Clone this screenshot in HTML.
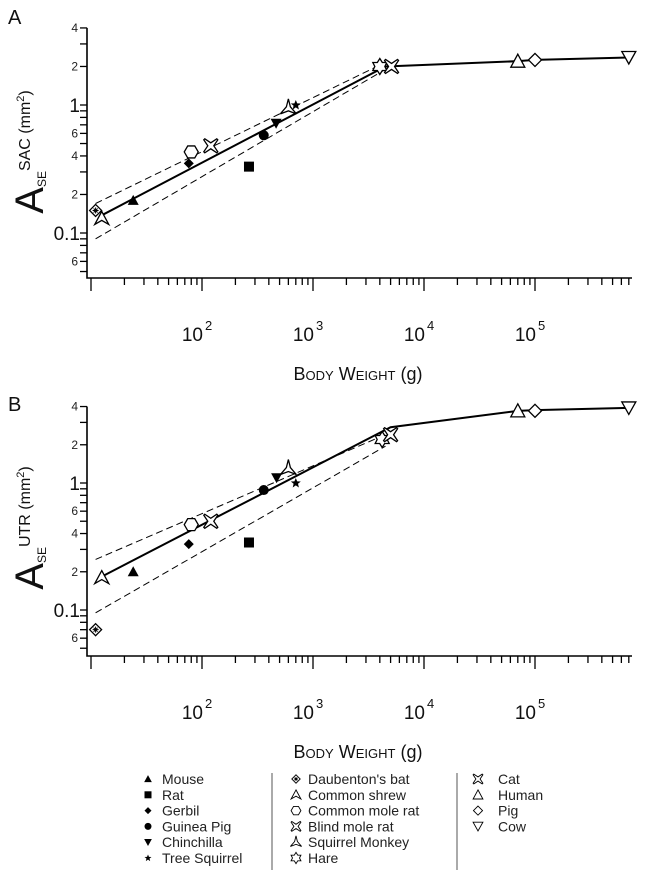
<!DOCTYPE html>
<html><head><meta charset="utf-8">
<style>
body{margin:0;background:#fff;}
svg{display:block;font-family:"Liberation Sans",sans-serif;}
</style></head>
<body>
<svg id="fig" width="645" height="879" viewBox="0 0 645 879"></svg>
<script>
// ---- data ----
const species = ["Daubenton's bat","Common shrew","Mouse","Gerbil","Common mole rat","Blind mole rat","Rat","Guinea Pig","Chinchilla","Squirrel Monkey","Tree Squirrel","Hare","Cat","Human","Pig","Cow"];
const markers = ["bat","shrew","tri","diamond","hex","blind","square","circle","tridown","monkey","star","hare","cat","otri","odiamond","otridown"];
const weightsA = [11,12.5,24,76,80,120,265,360,465,600,700,4000,5100,70000,100000,700000];
const valuesA = [0.15,0.13,0.18,0.35,0.43,0.48,0.33,0.58,0.72,0.95,1.0,2.0,2.0,2.2,2.25,2.35];
const weightsB = [11,12.5,24,76,80,120,265,360,470,600,700,4200,5000,70000,100000,700000];
const valuesB = [0.07,0.18,0.2,0.33,0.47,0.5,0.34,0.88,1.1,1.3,1.0,2.2,2.4,3.7,3.7,3.9];
const fitAx = [12,4500,70000,100000,700000];
const fitAy = [0.135,2.0,2.2,2.25,2.35];
const upAx = [11,4000]; const upAy = [0.17,2.05];
const loAx = [11,4500]; const loAy = [0.09,1.9];
const fitBx = [12,5000,70000,100000,700000];
const fitBy = [0.18,2.75,3.7,3.75,3.9];
const upBx = [11,4000]; const upBy = [0.25,2.3];
const loBx = [11,4500]; const loBy = [0.095,1.95];
const xTickLabels = ["2","3","4","5"];

const NS="http://www.w3.org/2000/svg";
const svg=document.getElementById('fig');
function el(tag,attrs,parent){const e=document.createElementNS(NS,tag);for(const k in attrs)e.setAttribute(k,attrs[k]);(parent||svg).appendChild(e);return e;}

function panel(cfg){
  const g=el('g',{});
  
  
  const X=w=>202+(Math.log10(w)-2)*111;
  const Y=v=>cfg.y1-Math.log10(v)*cfg.dec;
  const x0=87, xEnd=632, yB=cfg.yB, yT=Y(4);
  const ax=el('path',{d:`M${x0},${yT} L${x0},${yB} L${xEnd},${yB}`,stroke:'#000','stroke-width':1.6,fill:'none'},g);
  
  
  const yt=[0.05,0.06,0.07,0.08,0.09,0.1,0.2,0.3,0.4,0.5,0.6,0.7,0.8,0.9,1,2,3,4];
  yt.forEach(v=>{const y=Y(v);el('line',{x1:x0-7,x2:x0,y1:y,y2:y,stroke:'#000','stroke-width':1.3},g);});
  [[0.06,'6'],[0.2,'2'],[0.4,'4'],[0.6,'6'],[2,'2'],[4,'4']].forEach(([v,t])=>{
    const tx=el('text',{x:x0-9,y:Y(v)+4,'font-size':12,'text-anchor':'end',fill:'#222'},g);tx.textContent=t;
    });
  [[0.1,'0.1'],[1,'1']].forEach(([v,t])=>{
    const tx=el('text',{x:x0-7,y:Y(v)+7,'font-size':19,'text-anchor':'end',fill:'#111'},g);tx.textContent=t;
    });
  for(let d=1;d<=5;d++){for(let m=1;m<=9;m++){const w=m*Math.pow(10,d);const x=X(w);if(x<x0+2||x>xEnd)continue;
    el('line',{x1:x,x2:x,y1:yB,y2:yB+(m===1?13:7),stroke:'#000','stroke-width':1.3},g);}}
  xTickLabels.forEach((t,i)=>{const x=X(Math.pow(10,i+2));
    const tx=el('text',{x:x+1,y:yB+63,'font-size':19,'text-anchor':'end',fill:'#111'},g);tx.textContent='10';
    
    const s=el('text',{x:x+3,y:yB+52,'font-size':13,fill:'#111'},g);s.textContent=t;});
  const xt=el('text',{x:358,y:yB+102,'font-size':18,'text-anchor':'middle',fill:'#111'},g);
  xt.innerHTML='B<tspan font-size="13">ODY</tspan> W<tspan font-size="13">EIGHT</tspan> (g)';
  
  const yg=el('g',{transform:`translate(43,${cfg.yTitleY}) rotate(-90)`},g);
  const ytt=el('text',{x:0,y:0,'text-anchor':'middle',fill:'#111','font-size':17},yg);
  ytt.innerHTML=`<tspan font-size="40">A</tspan><tspan font-size="12" dy="3">SE</tspan><tspan font-size="16" dy="-16">${cfg.sup} (mm</tspan><tspan font-size="11" dy="-6">2</tspan><tspan font-size="16" dy="6">)</tspan>`;
  
  const pl=el('text',{x:8,y:cfg.labelY,'font-size':20,fill:'#111'},g);pl.textContent=cfg.label;
  
  const line=(xs,ys,dash,name)=>{const p=el('polyline',{points:xs.map((w,i)=>X(w)+','+Y(ys[i])).join(' '),fill:'none',stroke:'#000','stroke-width':dash?1:2,'stroke-dasharray':dash?'7,4':'none'},g);
    };
  line(cfg.upx,cfg.upy,true,'upper-confidence-line');
  line(cfg.lox,cfg.loy,true,'lower-confidence-line');
  line(cfg.fx,cfg.fy,false,'fit-line');
  cfg.wx.forEach((w,i)=>{const m=drawMarker(g,markers[i],X(w),Y(cfg.vy[i]),1);
    
    });
}

function drawMarker(parent,type,x,y,s){
  const g=el('g',{transform:`translate(${x},${y}) scale(${s})`},parent);
  const f={fill:'#000'}, o={fill:'#fff',stroke:'#000','stroke-width':1.3};
  switch(type){
    case 'tri': el('path',Object.assign({d:'M0,-5.5 L5.5,4.5 L-5.5,4.5Z'},f),g);break;
    case 'square': el('rect',Object.assign({x:-5,y:-5,width:10,height:10},f),g);break;
    case 'diamond': el('path',Object.assign({d:'M0,-5 L5,0 L0,5 L-5,0Z'},f),g);break;
    case 'circle': el('circle',Object.assign({r:5},f),g);break;
    case 'tridown': el('path',Object.assign({d:'M-5.5,-4.5 L5.5,-4.5 L0,5.5Z'},f),g);break;
    case 'star': el('path',Object.assign({d:'M0,-5 L1.4,-1.6 L5,-1.5 L2.2,0.8 L3.1,4.5 L0,2.4 L-3.1,4.5 L-2.2,0.8 L-5,-1.5 L-1.4,-1.6Z'},f),g);break;
    case 'bat': el('path',Object.assign({d:'M0,-6 L6,0 L0,6 L-6,0Z'},o),g);el('path',{d:'M-3,0 L3,0 M0,-3 L0,3 M-2,-2 L2,2 M-2,2 L2,-2',stroke:'#000','stroke-width':1},g);break;
    case 'shrew': el('path',Object.assign({d:'M0,-7 L7,6 L0,2 L-7,6Z'},o),g);break;
    case 'hex': el('path',Object.assign({d:'M-3.5,-6 L3.5,-6 L7,0 L3.5,6 L-3.5,6 L-7,0Z'},o),g);break;
    case 'blind': case 'hare': case 'cat':
      if(type==='hare'){el('path',Object.assign({d:'M0,-8 L2.5,-4 L7,-4 L5,0 L7,4 L2.5,4 L0,8 L-2.5,4 L-7,4 L-5,0 L-7,-4 L-2.5,-4Z'},o),g);}
      else {el('path',Object.assign({d:'M-6,-7 L0,-3 L6,-7 L7,-6 L3,0 L7,6 L6,7 L0,3 L-6,7 L-7,6 L-3,0 L-7,-6Z'},o),g);}
      break;
    case 'monkey': el('path',Object.assign({d:'M0,-9 L2,-1 L8,6 L0,3 L-8,6 L-2,-1Z'},o),g);break;
    case 'otri': el('path',Object.assign({d:'M0,-7 L7,6 L-7,6Z'},o),g);break;
    case 'odiamond': el('path',Object.assign({d:'M0,-6.5 L6.5,0 L0,6.5 L-6.5,0Z'},o),g);break;
    case 'otridown': el('path',Object.assign({d:'M-7,-6 L7,-6 L0,6.5Z'},o),g);break;
  }
  return g;
}

panel({name:'panel-a',label:'A',labelY:24,y1:105,dec:128,yB:278,yTitleY:152,sup:'SAC',
  wx:weightsA,vy:valuesA,fx:fitAx,fy:fitAy,upx:upAx,upy:upAy,lox:loAx,loy:loAy});
panel({name:'panel-b',label:'B',labelY:411,y1:483,dec:127,yB:656,yTitleY:528,sup:'UTR',
  wx:weightsB,vy:valuesB,fx:fitBx,fy:fitBy,upx:upBx,upy:upBy,lox:loBx,loy:loBy});

const leg=el('g',{});


const cols=[{mx:148,tx:162,idx:[2,6,3,7,8,10]},{mx:296,tx:308,idx:[0,1,4,5,9,11]},{mx:478,tx:498,idx:[12,13,14,15]}];
cols.forEach(c=>{c.idx.forEach((k,r)=>{const y=779+r*15.8;
  drawMarker(leg,markers[k],c.mx,y,0.7);
  const t=el('text',{x:c.tx,y:y+5,'font-size':14,fill:'#222'},leg);t.textContent=species[k];
  });});
[272,457].forEach(x=>el('line',{x1:x,x2:x,y1:773,y2:870,stroke:'#555','stroke-width':1},leg));
</script>
</body></html>
